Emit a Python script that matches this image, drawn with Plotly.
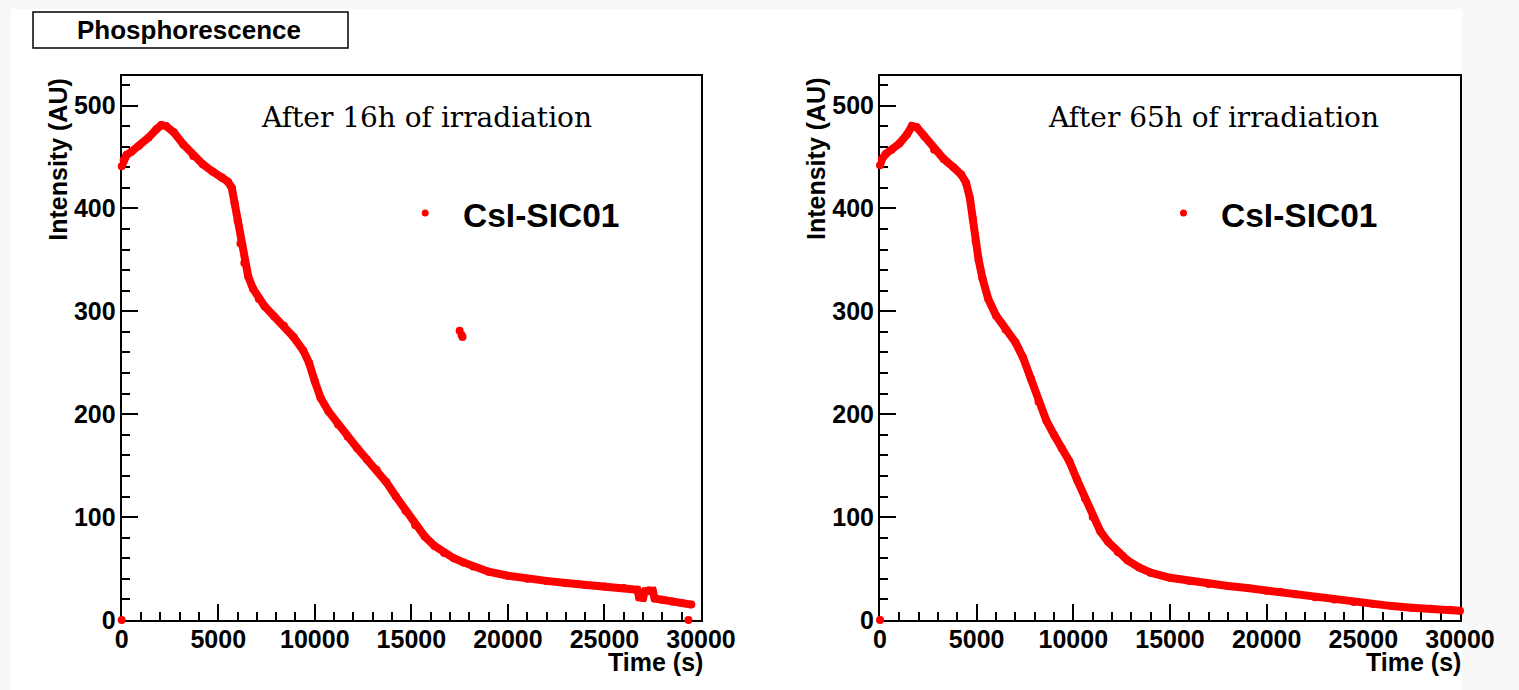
import plotly.graph_objects as go

W, H = 1519, 690

# ---------------- data ----------------
# Left panel: after 16h of irradiation
t16 = [0, 100, 250, 500, 900, 1400, 1800, 2050, 2300, 2700, 3200, 3700, 4200, 4700, 5200,
       5500, 5700, 5850, 6000, 6150, 6350, 6550, 6800, 7100, 7400, 7900, 8400, 8900, 9400,
       9700, 10000, 10300, 10700, 11200, 11700, 12200, 12700, 13200, 13700, 14200, 14700,
       15200, 15700, 16200, 16700, 17200, 17700, 18200, 19000, 20000, 21000, 22000, 23000,
       24000, 25000, 26000, 26700, 26800, 27000, 27100, 27300, 27500, 27600, 28000, 28500,
       29000, 29500]
i16 = [441, 447, 452, 455, 461, 469, 477, 481, 480, 474, 462, 451, 443, 436, 430,
       426, 420, 405, 388, 366, 347, 334, 322, 312, 305, 295, 286, 275, 262,
       250, 232, 216, 203, 190, 178, 167, 156, 146, 134, 120, 106,
       92, 81, 72, 65, 60, 56, 52, 47, 43, 40, 38, 36,
       34, 32.5, 31, 29.5, 22, 21.5, 28, 29, 28.5, 21, 19.5, 18,
       16.5, 15]
# isolated points of the left panel
t16_iso = [0, 17500, 17600, 17650, 29350]
i16_iso = [0, 281, 277, 275, 0]

# Right panel: after 65h of irradiation
t65 = [0, 100, 300, 600, 1000, 1400, 1650, 1900, 2300, 2800, 3300, 3800, 4200, 4450, 4650,
       4800, 4950, 5100, 5300, 5600, 6000, 6500, 7000, 7400, 7800, 8200, 8600, 9000, 9400,
       9800, 10200, 10600, 11000, 11400, 11800, 12300, 12800, 13400, 14000, 15000, 16000,
       17000, 18000, 19000, 20000, 20700, 21500, 22500, 23500, 24500, 25500, 26500, 27500,
       28500, 29500, 30000]
i65 = [442, 448, 453, 457, 463, 472, 480, 479, 470, 457, 448, 440, 433, 425, 410,
       390, 368, 350, 332, 312, 296, 282, 270, 255, 235, 212, 194, 180, 167,
       154, 136, 118, 100, 86, 76, 66, 58, 51, 46, 41, 38,
       35, 33, 31, 28.5, 27.5, 25, 22, 20, 17.5, 15.5, 13.5, 12,
       11, 10, 9]
t65_iso = [0]
i65_iso = [0]

series_name = "CsI-SIC01"
panel_labels = ["After 16h of irradiation", "After 65h of irradiation"]
main_title = "Phosphorescence"
x_title = "Time (s)"
y_title = "Intensity (AU)"

X_RANGE = [0, 30000]
Y_RANGE = [0, 529]

RED = "#ff0000"
SANS = "Liberation Sans, Arial, Helvetica, sans-serif"
SERIF = "DejaVu Serif, serif"


def px(x):
    return x / W


def py(y):
    return 1 - y / H


fig = go.Figure()

line_style = dict(color=RED, width=8)
mk = dict(color=RED, size=8)
mk_iso = dict(color=RED, size=8, line=dict(width=0))

fig.add_trace(go.Scatter(x=t16, y=i16, mode="lines+markers", line=line_style, marker=mk,
                         xaxis="x", yaxis="y", showlegend=False, cliponaxis=False))
fig.add_trace(go.Scatter(x=t16_iso, y=i16_iso, mode="markers", marker=mk_iso,
                         xaxis="x", yaxis="y", showlegend=False, cliponaxis=False))
fig.add_trace(go.Scatter(x=t65, y=i65, mode="lines+markers", line=line_style, marker=mk,
                         xaxis="x2", yaxis="y2", showlegend=False, cliponaxis=False))
fig.add_trace(go.Scatter(x=t65_iso, y=i65_iso, mode="markers", marker=mk_iso,
                         xaxis="x2", yaxis="y2", showlegend=False, cliponaxis=False))

tickfont = dict(family=SANS, size=25, color="black", weight="bold")

def xaxis(domain, anchor):
    return dict(domain=domain, anchor=anchor, range=X_RANGE, dtick=5000, tick0=0,
                ticks="inside", ticklen=16, tickwidth=2, tickcolor="black",
                minor=dict(dtick=1000, ticks="inside", ticklen=8, tickwidth=2, tickcolor="black"),
                showline=True, linecolor="black", linewidth=2, mirror=True,
                showgrid=False, zeroline=False, tickfont=tickfont, tickformat="d",
                ticklabelstandoff=-4, automargin=False, layer="below traces")

def yaxis(domain, anchor):
    return dict(domain=domain, anchor=anchor, range=Y_RANGE, dtick=100, tick0=0,
                ticks="inside", ticklen=16, tickwidth=2, tickcolor="black",
                minor=dict(dtick=20, ticks="inside", ticklen=8, tickwidth=2, tickcolor="black"),
                showline=True, linecolor="black", linewidth=2, mirror=True,
                showgrid=False, zeroline=False, tickfont=tickfont, tickformat="d",
                ticklabelstandoff=-1, automargin=False, layer="below traces")

ydom = [py(620), py(75.7)]
fig.update_layout(
    width=W, height=H, margin=dict(l=0, r=0, t=0, b=0, pad=0, autoexpand=False),
    paper_bgcolor="#f8f8f8", plot_bgcolor="white",
    xaxis=xaxis([px(121.7), px(701)], "y"),
    yaxis=yaxis(ydom, "x"),
    xaxis2=xaxis([px(880), px(1460)], "y2"),
    yaxis2=yaxis(ydom, "x2"),
    showlegend=False,
)

shapes = [
    # white canvas area
    dict(type="rect", xref="paper", yref="paper", x0=px(11), x1=px(1462), y0=0, y1=py(9),
         fillcolor="white", line=dict(width=0), layer="below"),
    # title box
    dict(type="rect", xref="paper", yref="paper", x0=px(33), x1=px(348), y0=py(48), y1=py(12),
         fillcolor="white", line=dict(color="black", width=1.5)),
]
annotations = [
    dict(text=main_title, x=px(189), y=py(29.5), xref="paper", yref="paper", showarrow=False,
         xanchor="center", yanchor="middle", font=dict(family=SANS, size=26, color="black", weight="bold")),
]

for k, (lab, x0, xlab) in enumerate(zip(panel_labels, [121.7, 880], [426.5, 1213.5])):
    # panel text
    annotations.append(dict(text=lab, x=px(xlab), y=py(117.5), xref="paper", yref="paper",
                            showarrow=False, xanchor="center", yanchor="middle",
                            font=dict(family=SERIF, size=28, color="black")))
    # legend marker + text
    lx = x0 + 303.5
    shapes.append(dict(type="circle", xref="paper", yref="paper",
                       x0=px(lx - 3.5), x1=px(lx + 3.5), y0=py(213 + 3.5), y1=py(213 - 3.5),
                       fillcolor=RED, line=dict(width=0)))
    annotations.append(dict(text=series_name, x=px(x0 + 339), y=py(215), xref="paper", yref="paper",
                            showarrow=False, xanchor="left", yanchor="middle",
                            font=dict(family=SANS, size=33.5, color="black", weight="bold")))
    # axis titles
    annotations.append(dict(text=y_title, x=px(x0 - 64), y=py(159), xref="paper", yref="paper",
                            showarrow=False, xanchor="center", yanchor="middle", textangle=-90,
                            font=dict(family=SANS, size=25, color="black", weight="bold")))
    annotations.append(dict(text=x_title, x=px(x0 + 533.5), y=py(662), xref="paper", yref="paper",
                            showarrow=False, xanchor="center", yanchor="middle",
                            font=dict(family=SANS, size=25, color="black", weight="bold")))

fig.update_layout(shapes=shapes, annotations=annotations)
fig.write_html("out.html")
